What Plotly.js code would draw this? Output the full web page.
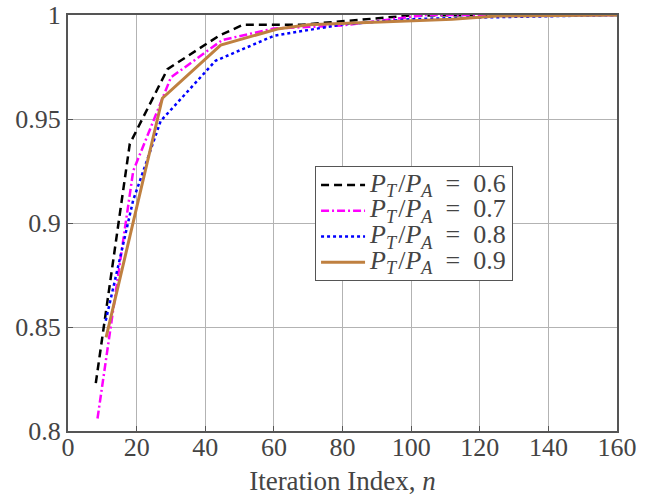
<!DOCTYPE html>
<html><head><meta charset="utf-8">
<script src="https://cdn.plot.ly/plotly-3.0.1.min.js"></script>
<style>
html,body{margin:0;padding:0;background:#fff;}
#chart{width:658px;height:501px;}
</style>
</head><body><div id="chart"></div>
<script>
// Series
const x06 = [8.1, 18, 29, 44, 51, 68, 100, 160];
const y06 = [0.823, 0.938, 0.974, 0.990, 0.9953, 0.9953, 0.9998, 1.0];
const x07 = [8.6, 19, 30, 45, 60, 80, 104, 160];
const y07 = [0.806, 0.925, 0.970, 0.988, 0.9935, 0.995, 1.0, 1.0];
const x08 = [11, 19, 27, 43, 60, 80, 100, 120, 160];
const y08 = [0.853, 0.911, 0.949, 0.978, 0.990, 0.9955, 0.998, 0.9988, 1.0];
const x09 = [11.1, 27.5, 44.5, 61, 70, 100, 112, 125, 160];
const y09 = [0.845, 0.960, 0.9855, 0.9933, 0.9953, 0.9972, 0.998, 0.9995, 1.0];
const names = ['0.6', '0.7', '0.8', '0.9'];
const xTickStep = 20;
const yTickStep = 0.05;

const lbl = v => '<span style="font-size:26px"><i>P</i><sub><i>T</i></sub>&#8202;/<i>P</i><sub><i>A</i></sub>&#8194;=&#8194;' + v + '</span>';

const traces = [
  {x: x06, y: y06, name: lbl(names[0]), mode: 'lines', line: {color: '#000000', width: 2.5, dash: '8px,5px'}},
  {x: x07, y: y07, name: lbl(names[1]), mode: 'lines', line: {color: '#ff00ff', width: 2.5, dash: '8px,3px,2px,3px'}},
  {x: x08, y: y08, name: lbl(names[2]), mode: 'lines', line: {color: '#0000ff', width: 2.5, dash: 'dot'}},
  {x: x09, y: y09, name: lbl(names[3]), mode: 'lines', line: {color: '#bf8040', width: 3}}
];

const layout = {
  width: 658, height: 501,
  margin: {l: 68, r: 41, t: 15, b: 70, pad: 0},
  font: {family: 'Liberation Serif', size: 26},
  showlegend: true,
  legend: {
    x: 0.45, y: 0.637, xanchor: 'left', yanchor: 'top',
    bgcolor: '#ffffff', bordercolor: '#555555', borderwidth: 1,
    font: {size: 17.5},
    itemwidth: 44
  },
  xaxis: {
    range: [0, 160], tickmode: 'linear', tick0: 0, dtick: xTickStep,
    showgrid: true, gridcolor: '#b3b3b3', gridwidth: 1,
    showline: true, linecolor: '#555555', linewidth: 2, mirror: true,
    ticks: 'inside', ticklen: 5, tickcolor: '#555555',
    zeroline: false, ticklabelstandoff: -8,
    title: {text: 'Iteration Index, <i>n</i>', font: {size: 27}, standoff: 10}
  },
  yaxis: {
    range: [0.8, 1], tickmode: 'linear', tick0: 0.8, dtick: yTickStep,
    showgrid: true, gridcolor: '#b3b3b3', gridwidth: 1,
    showline: true, linecolor: '#555555', linewidth: 2, mirror: true,
    ticks: 'inside', ticklen: 5, tickcolor: '#555555',
    zeroline: false
  }
};
Plotly.newPlot('chart', traces, layout, {staticPlot: true, displayModeBar: false});
</script>
</body></html>
